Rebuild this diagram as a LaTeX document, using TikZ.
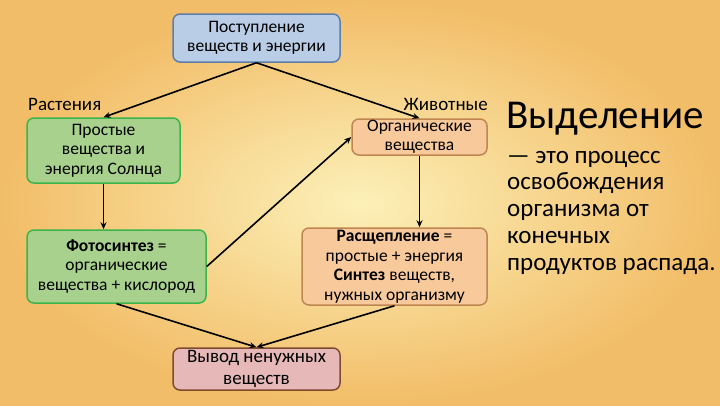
\documentclass[tikz,border=0pt]{standalone}
\usepackage{fontspec}
\setmainfont{Carlito}
\usetikzlibrary{arrows.meta}
\definecolor{bgin}{HTML}{FCF0B8}
\definecolor{bgout}{HTML}{F2BD68}
\definecolor{blueFill}{HTML}{B9CDE6}
\definecolor{blueLine}{HTML}{5E7DA8}
\definecolor{greenFill}{HTML}{A9D18E}
\definecolor{greenLine}{HTML}{3BB54A}
\definecolor{orangeFill}{HTML}{F8C99B}
\definecolor{orangeLine}{HTML}{BF8650}
\definecolor{pinkFill}{HTML}{E6B9B8}
\definecolor{pinkLine}{HTML}{7E4B2E}
\begin{document}
\begin{tikzpicture}[x=1pt, y=-1pt,
  every node/.style={font=\fontsize{17.5}{19.5}\selectfont},
  box/.style={draw, line width=1.5pt, rounded corners=7pt, align=center, inner sep=1pt},
  bluebox/.style={box, fill=blueFill, draw=blueLine},
  greenbox/.style={box, fill=greenFill, draw=greenLine},
  orangebox/.style={box, fill=orangeFill, draw=orangeLine},
  pinkbox/.style={box, fill=pinkFill, draw=pinkLine},
  link/.style={-{Stealth[length=7pt, width=6pt]}, line width=1.6pt}]
  \shade[inner color=bgin, outer color=bgout] (0,0) rectangle (720,405);
  \useasboundingbox (0,0) rectangle (720,405);
  % boxes
  \node[bluebox, minimum width=167pt, minimum height=48pt] (intake) at (256.5,38) {Поступление\\веществ и энергии};
  \node[greenbox, minimum width=153pt, minimum height=65pt] (simple) at (103.5,150.5) {Простые\\вещества и\\энергия Солнца};
  \node[greenbox, minimum width=179pt, minimum height=73pt] (photo) at (116.5,266.5) {\textbf{Фотосинтез} =\\органические\\вещества + кислород};
  \node[orangebox, minimum width=135pt, minimum height=36pt] (organic) at (419.5,137) {Органические\\вещества};
  \node[orangebox, minimum width=185pt, minimum height=77pt] (split) at (394.5,266.5) {\textbf{Расщепление} =\\простые + энергия\\\textbf{Синтез} веществ,\\нужных организму};
  \node[pinkbox, minimum width=167pt, minimum height=42pt, font=\fontsize{19}{22}\selectfont] (output) at (256.5,369) {Вывод ненужных\\веществ};
  % labels
  \node[anchor=base west, inner sep=0pt, font=\fontsize{19}{22}\selectfont] (plants) at (28,110) {Растения};
  \node[anchor=base east, inner sep=0pt, font=\fontsize{19}{22}\selectfont] (animals) at (488,110) {Животные};
  % arrows
  \draw[link] (intake.south) -- (simple.north);
  \draw[link] (intake.south) -- (organic.north);
  \draw[link] (simple.south) -- (simple.south |- photo.north);
  \draw[link] (photo.east) -- (organic.west);
  \draw[link] (organic.south) -- (organic.south |- split.north);
  \draw[link] (photo.south) -- (output.north);
  \draw[link] (split.south) -- (output.north);
  % definition
  \node[anchor=base west, inner sep=0pt, font=\fontsize{41}{41}\selectfont] (title) at (506,128) {Выделение};
  \foreach \t [count=\i from 0] in {— это процесс, освобождения, организма от, конечных, продуктов распада.}
    \node[anchor=base west, inner sep=0pt, font=\fontsize{25}{27}\selectfont] (def\i) at (507,{163+26.8*\i}) {\t};
\end{tikzpicture}
\end{document}
